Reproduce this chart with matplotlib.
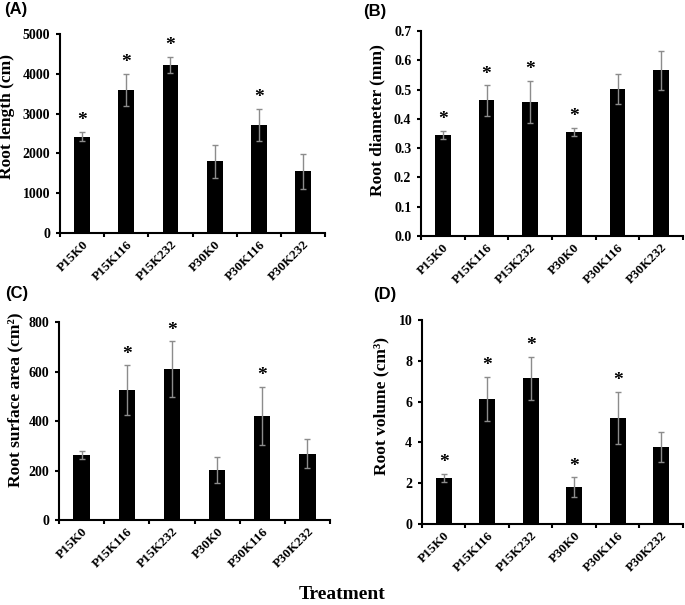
import numpy as np
import matplotlib.pyplot as plt

treatments = ['P15K0', 'P15K116', 'P15K232', 'P30K0', 'P30K116', 'P30K232']

root_length = [2420, 3600, 4230, 1800, 2720, 1550]
root_length_err = [120, 400, 200, 420, 400, 440]
root_length_sig = [True, True, True, False, True, False]

root_diameter = [0.345, 0.463, 0.458, 0.355, 0.502, 0.565]
root_diameter_err = [0.015, 0.052, 0.072, 0.015, 0.05, 0.067]
root_diameter_sig = [True, True, True, True, False, False]

root_area = [262, 525, 610, 202, 420, 268]
root_area_err = [15, 100, 112, 53, 118, 58]
root_area_sig = [False, True, True, False, True, False]

root_volume = [2.27, 6.15, 7.15, 1.8, 5.2, 3.78]
root_volume_err = [0.2, 1.08, 1.05, 0.5, 1.28, 0.75]
root_volume_sig = [True, True, True, True, True, False]

SERIF = 'Liberation Serif'
SANS = 'Liberation Sans'


def draw_panel(ax, values, errors, sig, ylabel, ymax, ystep, star_off, label_xy):
    x = np.arange(len(treatments))
    ax.bar(x, values, width=0.36, color='black', zorder=2)
    ax.errorbar(x, values, yerr=errors, fmt='none', ecolor='#8c8c8c',
                elinewidth=1, capsize=2, capthick=1, zorder=3)
    for xi, v, e, s in zip(x, values, errors, sig):
        if s:
            ax.text(xi, v + e + star_off, '*', ha='center', va='bottom',
                    fontsize=14, fontweight='bold', family=SERIF)
    ax.set_xlim(-0.5, len(treatments) - 0.5)
    ax.set_ylim(0, ymax)
    ax.set_yticks(np.arange(0, ymax + ystep / 2, ystep))
    ax.set_xticks(np.arange(-0.5, len(treatments), 1.0), minor=False)
    ax.set_xticklabels([])
    ax.set_xticks(x, minor=True)
    ax.set_xticklabels(treatments, minor=True, rotation=45, ha='right',
                       rotation_mode='anchor', fontsize=9.5, fontweight='bold',
                       family=SERIF)
    ax.tick_params(axis='x', which='minor', length=0, pad=4)
    ax.tick_params(axis='x', which='major', length=3, width=1.5, direction='out')
    ax.tick_params(axis='y', length=3, width=1.5, direction='out', pad=4)
    for lbl in ax.get_yticklabels():
        lbl.set_fontsize(10)
        lbl.set_fontweight('bold')
        lbl.set_family(SERIF)
    ax.spines['top'].set_visible(False)
    ax.spines['right'].set_visible(False)
    ax.spines['left'].set_linewidth(1.5)
    ax.spines['bottom'].set_linewidth(1.5)
    ax.set_ylabel(ylabel, fontsize=12.5, fontweight='bold', family=SERIF)
    # label anchor is the right edge of the rotated text
    ax.yaxis.set_label_coords(*label_xy)


fig = plt.figure(figsize=(6.85, 6.05), dpi=100)

ax_a = fig.add_axes([0.0876, 0.6149, 0.387, 0.329])
ax_b = fig.add_axes([0.6146, 0.6099, 0.3825, 0.339])
ax_c = fig.add_axes([0.0861, 0.1405, 0.3957, 0.327])
ax_d = fig.add_axes([0.616, 0.1339, 0.381, 0.337])

draw_panel(ax_a, root_length, root_length_err, root_length_sig,
           'Root length (cm)', 5000, 1000, 60, (-0.168, 0.583))
draw_panel(ax_b, root_diameter, root_diameter_err, root_diameter_sig,
           'Root diameter (mm)', 0.7, 0.1, 0.008, (-0.136, 0.566))
draw_panel(ax_c, root_area, root_area_err, root_area_sig,
           'Root surface area (cm²)', 800, 200, 10, (-0.13, 0.606))
draw_panel(ax_d, root_volume, root_volume_err, root_volume_sig,
           'Root volume (cm³)', 10, 2, 0.12, (-0.125, 0.578))

fig.text(0.006, 0.997, '(A)', fontsize=12, fontweight='bold', family=SANS, va='top')
fig.text(0.530, 0.993, '(B)', fontsize=12, fontweight='bold', family=SANS, va='top')
fig.text(0.007, 0.527, '(C)', fontsize=12, fontweight='bold', family=SANS, va='top')
fig.text(0.545, 0.525, '(D)', fontsize=12, fontweight='bold', family=SANS, va='top')

fig.text(0.5, 0.003, 'Treatment', fontsize=14, fontweight='bold', family=SERIF,
         ha='center', va='bottom')

fig.savefig('out.png', dpi=100)
